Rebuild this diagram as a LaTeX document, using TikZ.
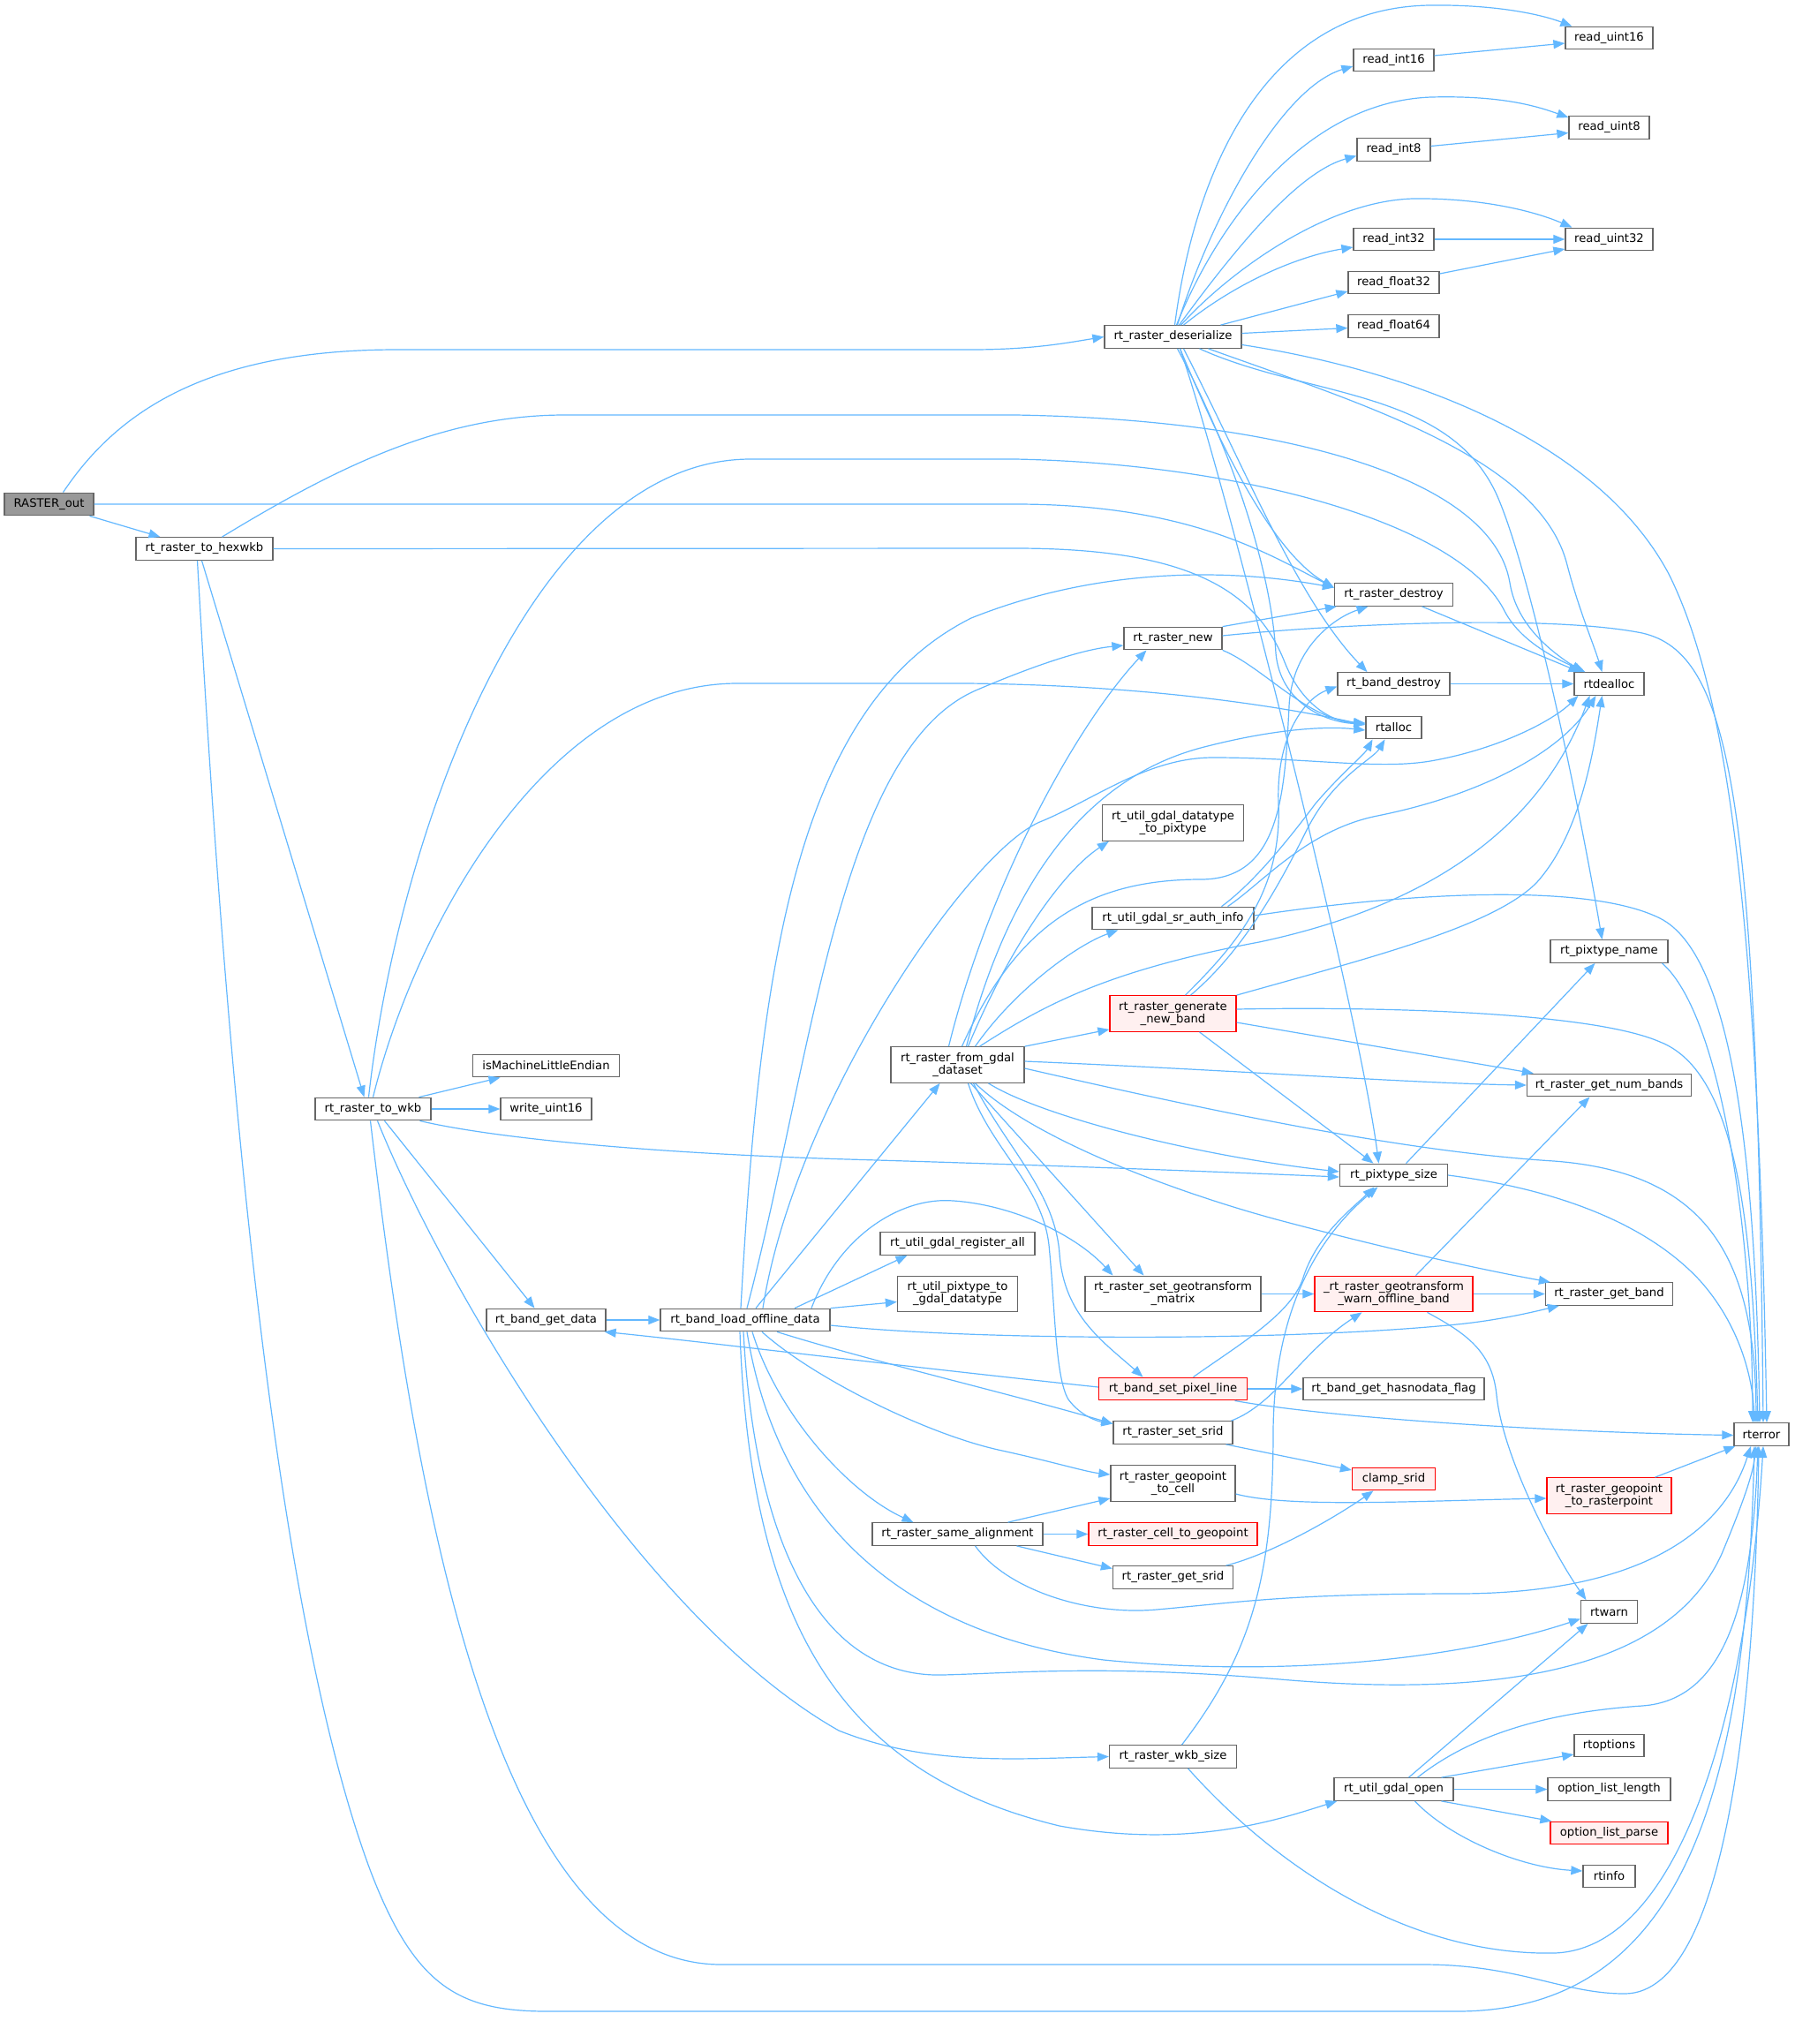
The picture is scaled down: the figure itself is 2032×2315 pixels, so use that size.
\documentclass[tikz,border=0pt]{standalone}
\usepackage{fontspec}
\setmainfont{DejaVu Sans}
\usetikzlibrary{arrows.meta}
\definecolor{eblue}{HTML}{63B8FF}
\definecolor{nborder}{HTML}{666666}
\definecolor{rfill}{HTML}{FFF0F0}
\definecolor{rootfill}{HTML}{999999}
\begin{document}
\begin{tikzpicture}[x=1pt,y=-1pt,
 nbox/.style={draw=nborder, fill=white, line width=1.3pt, inner sep=0pt, minimum height=25.5pt, align=center, font=\fontsize{13.2}{14}\selectfont},
 rbox/.style={nbox, draw=red, fill=rfill},
 root/.style={nbox, fill=rootfill},
 dbl/.style={minimum height=40.5pt},
 cx/.style={draw=eblue, line width=1.2pt, -{Triangle[length=13pt,width=10pt]}}]
\fill[white] (0,0) rectangle (2032,2315);
\useasboundingbox (0,0) rectangle (2032,2315);

% nodes
\node[root, minimum width=101pt] (ro) at (55.5,571) {RASTER\_out};
\node[nbox, minimum width=155pt] (hx) at (231.5,621.5) {rt\_raster\_to\_hexwkb};
\node[nbox, minimum width=131pt] (tw) at (422.5,1256) {rt\_raster\_to\_wkb};
\node[nbox, minimum width=166pt] (ime) at (618.5,1207) {isMachineLittleEndian};
\node[nbox, minimum width=103pt] (wu) at (618.5,1256) {write\_uint16};
\node[nbox, minimum width=135pt] (bgd) at (618.5,1495) {rt\_band\_get\_data};
\node[nbox, minimum width=192pt] (blo) at (844,1495) {rt\_band\_load\_offline\_data};
\node[nbox, minimum width=155pt] (ds) at (1328.5,381.5) {rt\_raster\_deserialize};
\node[nbox, minimum width=99pt] (ru16) at (1822.5,43) {read\_uint16};
\node[nbox, minimum width=91pt] (ri16) at (1578.5,68) {read\_int16};
\node[nbox, minimum width=91pt] (ru8) at (1822.5,144.5) {read\_uint8};
\node[nbox, minimum width=83pt] (ri8) at (1578.5,169.5) {read\_int8};
\node[nbox, minimum width=99pt] (ru32) at (1822.5,271) {read\_uint32};
\node[nbox, minimum width=91pt] (ri32) at (1578.5,271) {read\_int32};
\node[nbox, minimum width=103pt] (rf32) at (1578.5,320) {read\_float32};
\node[nbox, minimum width=103pt] (rf64) at (1578.5,369.5) {read\_float64};
\node[nbox, minimum width=134pt] (rdes) at (1578.5,673.5) {rt\_raster\_destroy};
\node[nbox, minimum width=111pt] (rnew) at (1328.5,723) {rt\_raster\_new};
\node[nbox, minimum width=127pt] (bdes) at (1578.5,774.5) {rt\_band\_destroy};
\node[nbox, minimum width=79pt] (rdeal) at (1822.5,774.5) {rtdealloc};
\node[nbox, minimum width=63pt] (ralloc) at (1578.5,824) {rtalloc};
\node[nbox, dbl, minimum width=160pt] (gdtp) at (1328.5,932) {rt\_util\_gdal\_datatype\\\_to\_pixtype};
\node[nbox, minimum width=183pt] (sra) at (1328.5,1040) {rt\_util\_gdal\_sr\_auth\_info};
\node[nbox, minimum width=133pt] (ptn) at (1822.5,1077.5) {rt\_pixtype\_name};
\node[rbox, dbl, minimum width=143pt] (gnb) at (1328.5,1148) {rt\_raster\_generate\\\_new\_band};
\node[nbox, dbl, minimum width=151pt] (fg) at (1084.5,1206) {rt\_raster\_from\_gdal\\\_dataset};
\node[nbox, minimum width=186pt] (gnbd) at (1822.5,1229) {rt\_raster\_get\_num\_bands};
\node[nbox, minimum width=122pt] (pts) at (1578.5,1331) {rt\_pixtype\_size};
\node[nbox, minimum width=175pt] (rega) at (1084.5,1408.5) {rt\_util\_gdal\_register\_all};
\node[nbox, dbl, minimum width=136pt] (ptgd) at (1084.5,1465.5) {rt\_util\_pixtype\_to\\\_gdal\_datatype};
\node[nbox, dbl, minimum width=199pt] (sgt) at (1328.5,1465.5) {rt\_raster\_set\_geotransform\\\_matrix};
\node[rbox, dbl, minimum width=179pt] (wob) at (1578.5,1465.5) {\_rt\_raster\_geotransform\\\_warn\_offline\_band};
\node[nbox, minimum width=144pt] (gb) at (1822.5,1465.5) {rt\_raster\_get\_band};
\node[rbox, minimum width=168pt] (spl) at (1328.5,1573) {rt\_band\_set\_pixel\_line};
\node[nbox, minimum width=205pt] (hnf) at (1578.5,1573) {rt\_band\_get\_hasnodata\_flag};
\node[nbox, minimum width=135pt] (ssrid) at (1328.5,1622.5) {rt\_raster\_set\_srid};
\node[nbox, minimum width=62pt] (rterr) at (1995,1624.5) {rterror};
\node[nbox, dbl, minimum width=141pt] (gtc) at (1328.5,1680) {rt\_raster\_geopoint\\\_to\_cell};
\node[rbox, minimum width=94pt] (clamp) at (1578.5,1675) {clamp\_srid};
\node[rbox, dbl, minimum width=141pt] (gtr) at (1822.5,1694) {rt\_raster\_geopoint\\\_to\_rasterpoint};
\node[nbox, minimum width=193pt] (same) at (1084.5,1737.5) {rt\_raster\_same\_alignment};
\node[rbox, minimum width=191pt] (ctg) at (1328.5,1737.5) {rt\_raster\_cell\_to\_geopoint};
\node[nbox, minimum width=136pt] (gsrid) at (1328.5,1786.5) {rt\_raster\_get\_srid};
\node[nbox, minimum width=64pt] (rtwarn) at (1822.5,1825.5) {rtwarn};
\node[nbox, minimum width=144pt] (wkbs) at (1328.5,1989.5) {rt\_raster\_wkb\_size};
\node[nbox, minimum width=135pt] (gopen) at (1578.5,2026.5) {rt\_util\_gdal\_open};
\node[nbox, minimum width=79pt] (ropt) at (1822.5,1977) {rtoptions};
\node[nbox, minimum width=139pt] (oll) at (1822.5,2026.5) {option\_list\_length};
\node[rbox, minimum width=133pt] (olp) at (1822.5,2076) {option\_list\_parse};
\node[nbox, minimum width=59pt] (rinfo) at (1822.5,2125) {rtinfo};

% RASTER_out
\draw[cx] ([xshift=16pt]ro.north) .. controls (130,470) and (230,396) .. (450,396) -- (1100,396) .. controls (1170,396) and (1210,388) .. (ds.west);
\draw[cx] ([xshift=46pt]ro.south) -- ([xshift=-50pt]hx.north);
\draw[cx] (ro.east) -- (1150,571) .. controls (1350,571) and (1440,630) .. ([yshift=8pt]rdes.west);

% hexwkb
\draw[cx] ([xshift=-3pt]hx.south) -- ([xshift=-10pt]tw.north);
\draw[cx] ([xshift=20pt]hx.north) .. controls (380,530) and (500,470) .. (640,470) -- (1150,470) .. controls (1450,475) and (1690,540) .. (1710,660) .. controls (1718,710) and (1760,740) .. ([xshift=-30pt]rdeal.north);
\draw[cx] (hx.east) -- (1150,621) .. controls (1330,621) and (1420,660) .. (1455,750) .. controls (1475,800) and (1510,818) .. ([yshift=5pt]ralloc.west);
\draw[cx] ([xshift=-8pt]hx.south) .. controls (250,1100) and (300,1800) .. (420,2120) .. controls (470,2250) and (520,2278) .. (620,2278) -- (1650,2278) .. controls (1920,2278) and (1978,2000) .. ([xshift=-8pt]rterr.south);

% to_wkb
\draw[cx] ([xshift=52pt]tw.north) -- ([xshift=-52pt]ime.south);
\draw[cx] (tw.east) -- (wu.west);
\draw[cx] ([xshift=53pt]tw.south) .. controls (540,1285) and (700,1305) .. (960,1313) .. controls (1200,1320) and (1400,1328) .. ([yshift=-2pt]pts.west);
\draw[cx] ([xshift=13pt]tw.south) -- ([xshift=-13pt]bgd.north);
\draw[cx] ([xshift=5pt]tw.south) .. controls (500,1450) and (720,1830) .. (950,1960) .. controls (1050,2000) and (1150,1992) .. (wkbs.west);
\draw[cx] ([xshift=-3pt]tw.south) .. controls (470,1700) and (560,2225) .. (817,2225) -- (1612,2225) .. controls (1720,2225) and (1770,2258) .. (1840,2258) .. controls (1960,2258) and (1988,1900) .. ([xshift=-3pt]rterr.south);
\draw[cx] ([xshift=-5pt]tw.north) .. controls (450,950) and (600,520) .. (850,520) -- (1150,520) .. controls (1400,525) and (1650,590) .. (1703,690) .. controls (1720,725) and (1760,745) .. ([xshift=-27pt]rdeal.north);
\draw[cx] (tw.north) .. controls (470,1050) and (620,774) .. (835,774) -- (1095,774) .. controls (1300,776) and (1450,800) .. ([yshift=3pt]ralloc.west);

% band get data
\draw[cx] (bgd.east) -- (blo.west);
\draw[cx] ([yshift=2pt]spl.west) .. controls (1000,1545) and (800,1520) .. ([xshift=-2pt]bgd.south east);

% band load offline data
\draw[cx] ([xshift=12pt]blo.north) -- ([xshift=-20pt]fg.south);
\draw[cx] ([xshift=-5pt]blo.north) .. controls (860,1100) and (900,800) .. (1100,700) .. controls (1250,640) and (1400,645) .. ([yshift=8pt]rdes.west);
\draw[cx] ([xshift=2pt]blo.north) .. controls (920,1200) and (950,850) .. (1105,782) .. controls (1180,750) and (1230,735) .. ([yshift=-8pt]rnew.west);
\draw[cx] ([xshift=20pt]blo.north) .. controls (900,1250) and (1100,960) .. (1180,930) .. controls (1240,905) and (1300,858) .. (1374,858) .. controls (1480,858) and (1560,872) .. (1620,862) .. controls (1700,848) and (1760,815) .. ([xshift=-35pt]rdeal.south);
\draw[cx] ([xshift=56pt]blo.north) -- ([xshift=-57pt]rega.south);
\draw[cx] (blo.north east) -- ([yshift=-9pt]ptgd.west);
\draw[cx] ([xshift=75pt]blo.north) .. controls (950,1400) and (1020,1355) .. (1080,1360) .. controls (1150,1365) and (1220,1400) .. ([xshift=-68pt]sgt.north);
\draw[cx] ([yshift=-6pt]blo.east) .. controls (1100,1518) and (1450,1520) .. (1650,1500) .. controls (1700,1495) and (1740,1485) .. ([xshift=16pt]gb.south west);
\draw[cx] ([xshift=36pt]blo.south) .. controls (980,1540) and (1150,1580) .. ([yshift=10pt]ssrid.west);
\draw[cx] ([xshift=19pt]blo.south) .. controls (920,1560) and (1050,1625) .. (1135,1643) .. controls (1190,1655) and (1230,1667) .. ([yshift=10pt]gtc.west);
\draw[cx] ([xshift=8pt]blo.south) .. controls (880,1600) and (960,1690) .. ([xshift=-50pt]same.north);
\draw[cx] ([xshift=2pt]blo.south) .. controls (880,1720) and (1020,1850) .. (1250,1880) .. controls (1450,1900) and (1650,1880) .. ([yshift=-8pt]rtwarn.west);
\draw[cx] ([xshift=-2pt]blo.south) .. controls (855,1750) and (930,1900) .. (1067,1897) .. controls (1150,1895) and (1250,1885) .. (1450,1902) .. controls (1750,1928) and (1900,1870) .. (1950,1760) .. controls (1975,1700) and (1985,1670) .. ([xshift=-6pt]rterr.south);
\draw[cx] ([xshift=-6pt]blo.south) .. controls (850,1850) and (960,2010) .. (1200,2068) .. controls (1350,2095) and (1450,2060) .. ([xshift=4pt]gopen.south west);

% from gdal dataset
\draw[cx] ([xshift=12pt]fg.north) .. controls (1140,1080) and (1200,990) .. ([xshift=8pt]gdtp.south west);
\draw[cx] ([xshift=20pt]fg.north) .. controls (1150,1120) and (1220,1070) .. ([xshift=30pt]sra.south west);
\draw[cx] ([xshift=-10pt]fg.north) .. controls (1120,1000) and (1220,820) .. ([xshift=-30pt]rnew.south);
\draw[cx] ([xshift=5pt]fg.north) .. controls (1150,1050) and (1230,996) .. (1360,996) .. controls (1450,996) and (1455,900) .. (1460,800) .. controls (1463,735) and (1510,700) .. ([xshift=-29pt]rdes.south);
\draw[cx] ([xshift=10pt]fg.north) .. controls (1130,1050) and (1200,890) .. (1360,847) .. controls (1440,826) and (1500,822) .. ([yshift=-3pt]ralloc.west);
\draw[cx] ([xshift=25pt]fg.north) .. controls (1180,1140) and (1250,1100) .. (1426,1067) .. controls (1600,1030) and (1740,950) .. ([xshift=-22pt]rdeal.south);
\draw[cx] (fg.north east) -- ([yshift=3pt]gnb.south west);
\draw[cx] ([yshift=4pt]fg.east) .. controls (1400,1212) and (1600,1227) .. (gnbd.west);
\draw[cx] ([yshift=-4pt]fg.east) .. controls (1400,1265) and (1600,1305) .. (1760,1315) .. controls (1930,1328) and (1988,1420) .. ([xshift=-6pt]rterr.north);
\draw[cx] ([xshift=35pt]fg.south) .. controls (1180,1265) and (1360,1310) .. ([yshift=4pt]pts.west);
\draw[cx] ([xshift=20pt]fg.south) .. controls (1170,1290) and (1330,1350) .. (1449,1382) .. controls (1600,1422) and (1700,1442) .. ([xshift=6pt]gb.north west);
\draw[cx] ([xshift=15pt]fg.south) -- ([xshift=-33pt]sgt.north);
\draw[cx] ([xshift=18pt]fg.south) .. controls (1140,1300) and (1195,1350) .. (1200,1420) .. controls (1205,1490) and (1250,1520) .. ([xshift=-34pt]spl.north);
\draw[cx] ([xshift=12pt]fg.south) .. controls (1120,1300) and (1180,1340) .. (1188,1410) .. controls (1195,1480) and (1195,1560) .. (1210,1585) .. controls (1225,1605) and (1245,1610) .. ([yshift=10pt]ssrid.west);

% generate new band
\draw[cx] ([xshift=30pt]gnb.south) -- ([xshift=-23pt]pts.north);
\draw[cx] ([yshift=-10pt]gnb.east) -- ([xshift=8pt]gnbd.north west);
\draw[cx] ([yshift=5pt]gnb.east) .. controls (1550,1140) and (1800,1145) .. (1880,1180) .. controls (1970,1215) and (1985,1400) .. ([xshift=-4pt]rterr.north);
\draw[cx] (gnb.north east) .. controls (1550,1085) and (1690,1050) .. (1740,1000) .. controls (1790,945) and (1805,850) .. ([xshift=-8pt]rdeal.south);
\draw[cx] ([xshift=20pt]gnb.north) .. controls (1410,1075) and (1450,1000) .. (1480,940) .. controls (1510,880) and (1555,860) .. ([xshift=-10pt]ralloc.south);
\draw[cx] ([xshift=14pt]gnb.north) .. controls (1400,1070) and (1452,1010) .. (1448,910) .. controls (1445,830) and (1480,790) .. ([yshift=-3pt]bdes.west);

% sr auth info
\draw[cx] ([xshift=55pt]sra.north) .. controls (1420,1000) and (1460,950) .. (1490,910) .. controls (1520,875) and (1545,855) .. ([xshift=-24pt]ralloc.south);
\draw[cx] ([xshift=62pt]sra.north) .. controls (1430,1000) and (1480,940) .. (1560,924) .. controls (1680,900) and (1770,850) .. ([xshift=-15pt]rdeal.south);
\draw[cx] ([yshift=3pt]sra.east) .. controls (1600,1010) and (1800,1000) .. (1880,1040) .. controls (1960,1080) and (1988,1300) .. ([xshift=-2pt]rterr.north);

% raster new, destroy
\draw[cx] (rnew.north east) -- ([xshift=3pt]rdes.south west);
\draw[cx] ([yshift=3pt]rnew.east) .. controls (1500,708) and (1750,695) .. (1860,717) .. controls (1960,740) and (1990,900) .. ([xshift=2pt]rterr.north);
\draw[cx] (rnew.south east) .. controls (1430,755) and (1480,815) .. ([yshift=5pt]ralloc.west);
\draw[cx] ([xshift=32pt]rdes.south) -- ([xshift=-33pt]rdeal.north);
\draw[cx] (bdes.east) -- (rdeal.west);

% deserialize
\draw[cx] ([xshift=2pt]ds.north) .. controls (1355,180) and (1440,8) .. (1620,6) .. controls (1700,5) and (1750,18) .. ([xshift=8pt]ru16.north west);
\draw[cx] ([xshift=5pt]ds.north) .. controls (1370,250) and (1450,100) .. ([yshift=-7pt]ri16.west);
\draw[cx] ([xshift=4pt]ds.north) .. controls (1380,250) and (1480,115) .. (1621,110) .. controls (1700,108) and (1740,120) .. ([yshift=-2pt]ru8.north west);
\draw[cx] ([xshift=7pt]ds.north) .. controls (1400,280) and (1470,195) .. ([yshift=-7pt]ri8.west);
\draw[cx] ([xshift=9pt]ds.north) .. controls (1390,310) and (1500,228) .. (1600,225) .. controls (1680,224) and (1740,240) .. ([xshift=8pt]ru32.north west);
\draw[cx] ([xshift=12pt]ds.north) .. controls (1400,320) and (1470,290) .. ([yshift=-9pt]ri32.west);
\draw[cx] ([xshift=54pt]ds.north) -- ([yshift=-10pt]rf32.west);
\draw[cx] ([yshift=4pt]ds.east) -- ([yshift=-2pt]rf64.west);
\draw[cx] ([yshift=5pt]ri16.east) -- ([yshift=-6pt]ru16.west);
\draw[cx] ([yshift=4pt]ri8.east) -- ([yshift=-6pt]ru8.west);
\draw[cx] (ri32.east) -- (ru32.west);
\draw[cx] ([yshift=10pt]rf32.east) -- ([yshift=-11pt]ru32.west);
\draw[cx] ([yshift=-9pt]ds.east) .. controls (1600,420) and (1810,500) .. (1890,650) .. controls (1965,800) and (1992,1100) .. ([xshift=6pt]rterr.north);
\draw[cx] ([xshift=8pt]ds.south) .. controls (1380,500) and (1440,625) .. ([yshift=8pt]rdes.west);
\draw[cx] ([xshift=12pt]ds.south) .. controls (1410,530) and (1470,680) .. ([xshift=-30pt]bdes.north);
\draw[cx] ([xshift=5pt]ds.south) .. controls (1400,520) and (1440,650) .. (1445,740) .. controls (1450,795) and (1500,818) .. ([yshift=4pt]ralloc.west);
\draw[cx] ([xshift=40pt]ds.south) .. controls (1550,460) and (1745,520) .. (1775,640) .. controls (1788,690) and (1805,730) .. ([xshift=-8pt]rdeal.north);
\draw[cx] ([xshift=30pt]ds.south) .. controls (1480,450) and (1640,440) .. (1695,560) .. controls (1735,650) and (1790,920) .. ([xshift=-8pt]ptn.north);
\draw[cx] ([xshift=8pt]ds.south) .. controls (1390,550) and (1540,1150) .. ([xshift=-17pt]pts.north);

% pixtype
\draw[cx] ([xshift=14pt]pts.north) -- ([xshift=-16pt]ptn.south);
\draw[cx] (pts.east) .. controls (1750,1345) and (1860,1380) .. (1925,1450) .. controls (1970,1500) and (1985,1560) .. ([xshift=-8pt]rterr.north);
\draw[cx] ([xshift=60pt]ptn.south) .. controls (1950,1150) and (1985,1400) .. ([xshift=-10pt]rterr.north);

% geotransform / warn
\draw[cx] (sgt.east) -- (wob.west);
\draw[cx] (wob.east) -- (gb.west);
\draw[cx] ([xshift=25pt]wob.north) -- ([xshift=-22pt]gnbd.south);
\draw[cx] ([xshift=38pt]wob.south) .. controls (1660,1510) and (1690,1530) .. (1695,1580) .. controls (1702,1650) and (1760,1760) .. ([xshift=-26pt]rtwarn.north);

% set pixel line
\draw[cx] (spl.east) -- (hnf.west);
\draw[cx] ([xshift=70pt]spl.south) .. controls (1500,1605) and (1750,1622) .. ([yshift=-1pt]rterr.west);
\draw[cx] ([xshift=23pt]spl.north) .. controls (1400,1525) and (1460,1490) .. (1475,1450) .. controls (1490,1400) and (1530,1370) .. ([xshift=-22pt]pts.south);

% wkb size
\draw[cx] ([xshift=10pt]wkbs.north) .. controls (1420,1870) and (1442,1780) .. (1442,1620) .. controls (1443,1520) and (1470,1420) .. ([xshift=-18pt]pts.south);
\draw[cx] ([xshift=17pt]wkbs.south) .. controls (1450,2120) and (1600,2215) .. (1760,2212) .. controls (1900,2208) and (1978,1950) .. ([xshift=2pt]rterr.south);

% srid / geopoint
\draw[cx] ([yshift=-12pt]gtc.east) .. controls (1460,1708) and (1600,1700) .. ([yshift=-3pt]gtr.west);
\draw[cx] ([xshift=52pt]gtr.north) -- ([xshift=2pt]rterr.south west);
\draw[cx] ([xshift=60pt]ssrid.south) -- ([yshift=10pt]clamp.west);
\draw[cx] ([xshift=66pt]ssrid.north) .. controls (1445,1590) and (1475,1530) .. ([xshift=-36pt]wob.south);
\draw[cx] ([xshift=60pt]gsrid.north) .. controls (1440,1760) and (1510,1720) .. ([xshift=-23pt]clamp.south);

% same alignment
\draw[cx] ([xshift=57pt]same.north) -- ([yshift=-17pt]gtc.west);
\draw[cx] (same.east) -- (ctg.west);
\draw[cx] ([xshift=67pt]same.south) -- ([yshift=10pt]gsrid.west);
\draw[cx] ([xshift=20pt]same.south) .. controls (1140,1800) and (1230,1830) .. (1310,1823) .. controls (1400,1815) and (1460,1805) .. (1650,1805) .. controls (1850,1805) and (1950,1740) .. ([xshift=-12pt]rterr.south);

% gdal open
\draw[cx] ([xshift=54pt]gopen.north) -- ([yshift=-10pt]ropt.west);
\draw[cx] (gopen.east) -- (oll.west);
\draw[cx] ([xshift=54pt]gopen.south) -- ([xshift=2pt]olp.north west);
\draw[cx] ([xshift=24pt]gopen.south) .. controls (1640,2080) and (1720,2115) .. ([yshift=6pt]rinfo.west);
\draw[cx] ([xshift=17pt]gopen.north) -- ([xshift=-24pt]rtwarn.south);
\draw[cx] ([xshift=27pt]gopen.north) .. controls (1660,1970) and (1740,1940) .. (1860,1932) .. controls (1960,1925) and (1985,1800) .. ([xshift=-4pt]rterr.south);
\end{tikzpicture}
\end{document}
